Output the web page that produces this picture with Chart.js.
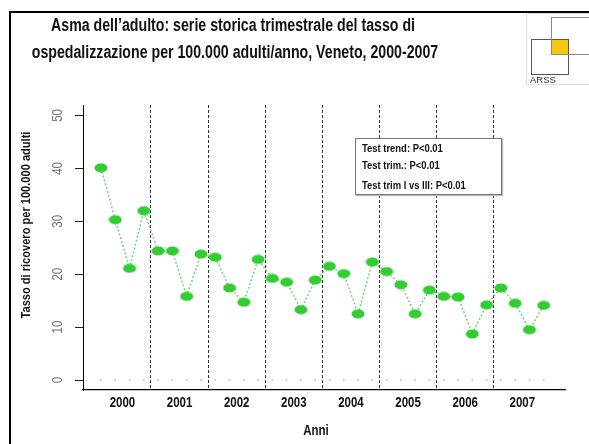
<!DOCTYPE html>
<html>
<head>
<meta charset="utf-8">
<script src="https://cdn.jsdelivr.net/npm/chart.js@4"></script>
<style>
  body { margin: 0; background: #fff; }
  #wrap { position: relative; width: 589px; height: 444px; overflow: hidden; font-family: "Liberation Sans", Arial, sans-serif; }
  #wrap canvas { position: absolute; left: 0; top: 0; }
  .frame { position: absolute; left: 9px; top: 11px; width: 700px; height: 600px; border: 2.5px solid #000; box-sizing: border-box; }
  .t { position: absolute; white-space: nowrap; color: #111; font-weight: bold; }
  .title { font-size: 17.5px; transform: translate(-50%, -50%) scaleX(0.81); }
  .logo { position: absolute; left: 526px; top: 13px; width: 80px; height: 72px; border: 1px solid #ddd; box-sizing: border-box; background: #fff; }
  .sq { position: absolute; box-sizing: border-box; }
  .arss { position: absolute; left: 530px; top: 74px; font-size: 9.5px; color: #333; }
  .legend { position: absolute; left: 355px; top: 138px; width: 147px; height: 57px; border: 1px solid #777; box-sizing: border-box; background: #fff; box-shadow: 1px 1px 1px #bbb; }
  .legend .t { left: 6px; font-size: 11.5px; transform-origin: 0 50%; transform: translateY(-50%) scaleX(0.82); }
  .ytitle { font-size: 13.5px; transform: translate(-50%, -50%) rotate(-90deg) scaleX(0.82); }
  .xtitle { font-size: 14px; transform: translate(-50%, -50%) scaleX(0.82); }
</style>
</head>
<body>
<div id="wrap">
  <canvas id="chart" width="589" height="444"></canvas>
  <div class="frame"></div>
  <div class="t title" style="left:233px;top:25px">Asma dell’adulto: serie storica trimestrale del tasso di</div>
  <div class="t title" style="left:235px;top:52px">ospedalizzazione per 100.000 adulti/anno, Veneto, 2000-2007</div>
  <div class="logo"></div>
  <div class="sq" style="left:531px;top:39px;width:38px;height:36px;border:1.5px solid #555;"></div>
  <div class="sq" style="left:551px;top:17px;width:60px;height:38px;border:1.5px solid #888;"></div>
  <div class="sq" style="left:552px;top:40px;width:16px;height:14px;background:#f6c814;"></div>
  <div class="arss">ARSS</div>
  <div class="legend">
    <div class="t" style="top:9px">Test trend: P&lt;0.01</div>
    <div class="t" style="top:26px">Test trim.: P&lt;0.01</div>
    <div class="t" style="top:46px">Test trim I vs III: P&lt;0.01</div>
  </div>
  <div class="t ytitle" style="left:25px;top:225px">Tasso di ricovero per 100.000 adulti</div>
  <div class="t xtitle" style="left:316px;top:430px">Anni</div>
</div>
<script>
const years = ['2000', '2001', '2002', '2003', '2004', '2005', '2006', '2007'];
const rates = [40.1, 30.3, 21.1, 32.0, 24.4, 24.4, 15.8, 23.8,
               23.2, 17.4, 14.7, 22.8, 19.2, 18.5, 13.3, 18.9,
               21.5, 20.1, 12.5, 22.3, 20.5, 18.0, 12.5, 17.0,
               15.8, 15.7, 8.7, 14.2, 17.4, 14.5, 9.5, 14.1];
const zeros = rates.map(() => 0);
const yTicks = [0, 10, 20, 30, 40, 50];

const font = '"Liberation Sans", Arial, sans-serif';
const squeeze = 0.82; // text in the original is a narrow face

// ellipse marker
const dot = document.createElement('canvas');
dot.width = 14; dot.height = 10;
const dc = dot.getContext('2d');
dc.fillStyle = '#32cd32';
dc.beginPath();
dc.ellipse(7, 5, 6.5, 4.5, 0, 0, Math.PI * 2);
dc.fill();

// separators between Q4 and Q1
const sepVals = [];
for (let i = 0; i < years.length - 1; i++) sepVals.push(i * 4 + 3.5);

const axisLabels = {
  id: 'axisLabels',
  afterDraw(chart) {
    const {ctx, scales: {x, y}} = chart;
    ctx.save();
    ctx.textAlign = 'center';
    ctx.textBaseline = 'middle';
    // y tick labels, rotated
    ctx.fillStyle = '#707070';
    ctx.font = '14px ' + font;
    yTicks.forEach(v => {
      ctx.save();
      ctx.translate(y.right - 25, y.getPixelForValue(v));
      ctx.rotate(-Math.PI / 2);
      ctx.scale(squeeze, 1);
      ctx.fillText(String(v), 0, 0);
      ctx.restore();
    });
    // year labels in the middle of each year
    ctx.fillStyle = '#111';
    ctx.font = 'bold 14px ' + font;
    years.forEach((yr, i) => {
      ctx.save();
      ctx.translate(x.getPixelForValue(i * 4 + 1.5), x.top + 13);
      ctx.scale(squeeze, 1);
      ctx.fillText(yr, 0, 0);
      ctx.restore();
    });
    ctx.restore();
  }
};

const ctx = document.getElementById('chart').getContext('2d');
const chart = new Chart(ctx, {
  type: 'line',
  data: {
    datasets: [{
      data: rates.map((v, i) => ({x: i, y: v})),
      borderColor: '#6bdc6b',
      borderWidth: 1.5,
      borderDash: [2, 2],
      pointStyle: dot,
      pointRadius: 5,
      tension: 0
    }, {
      data: zeros.map((v, i) => ({x: i, y: v})),
      showLine: false,
      pointRadius: 1,
      pointBorderWidth: 0,
      pointBackgroundColor: '#99e699'
    }]
  },
  options: {
    responsive: false,
    animation: false,
    devicePixelRatio: 1,
    layout: { padding: { left: 0, right: 24, top: 105, bottom: 0 } },
    plugins: { legend: { display: false }, tooltip: { enabled: false } },
    scales: {
      x: {
        type: 'linear',
        min: -1.26,
        max: 32.49,
        afterBuildTicks: s => { s.ticks = sepVals.map(v => ({value: v})); },
        afterFit: s => { s.height = 54; },
        ticks: { display: false },
        grid: { drawTicks: false, lineWidth: 1, color: '#333' },
        border: { display: true, color: '#000', width: 1.3, dash: [3, 2] }
      },
      y: {
        min: -1.89,
        max: 51.98,
        afterBuildTicks: s => { s.ticks = yTicks.map(v => ({value: v})); },
        afterFit: s => { s.width = 83; },
        ticks: { display: false },
        grid: { drawOnChartArea: false, drawTicks: true, tickLength: 8, tickColor: '#222' },
        border: { display: true, color: '#000', width: 1 }
      }
    }
  },
  plugins: [axisLabels]
});
</script>
</body>
</html>
